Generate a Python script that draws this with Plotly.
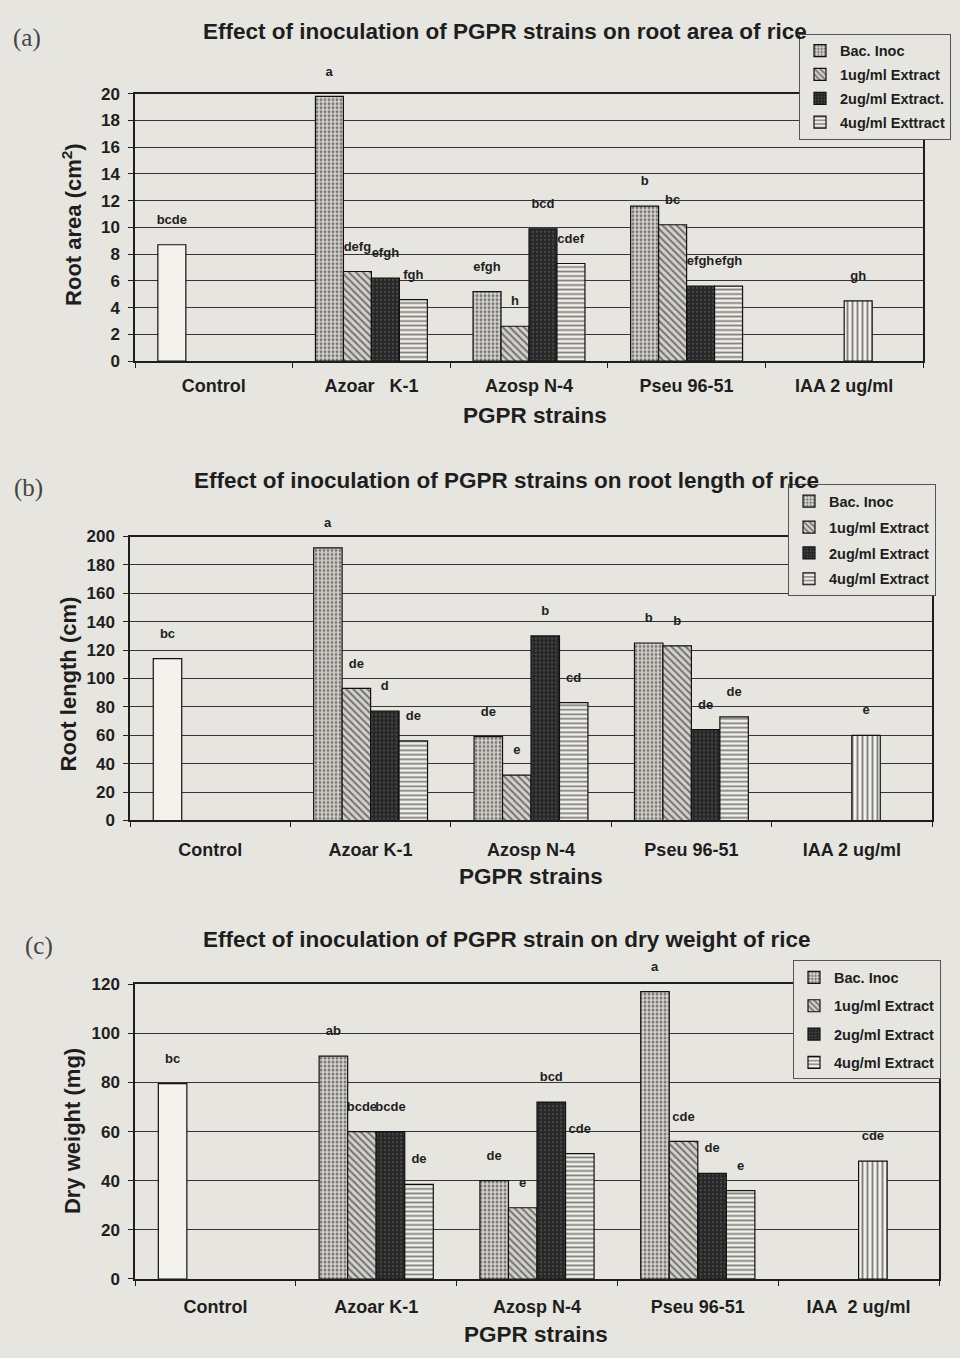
import plotly.graph_objects as go

# ---------------- data ----------------
categories = ["Control", "Azoar K-1", "Azosp N-4", "Pseu 96-51", "IAA 2 ug/ml"]
ticks_a = ["Control", "Azoar\u00a0\u00a0\u00a0K-1", "Azosp N-4", "Pseu 96-51", "IAA 2 ug/ml"]
ticks_b = ["Control", "Azoar K-1", "Azosp N-4", "Pseu 96-51", "IAA 2 ug/ml"]
ticks_c = ["Control", "Azoar K-1", "Azosp N-4", "Pseu 96-51", "IAA\u00a0\u00a02 ug/ml"]

legend_a = ["Bac. Inoc", "1ug/ml Extract", "2ug/ml Extract.", "4ug/ml Exttract"]
legend_bc = ["Bac. Inoc", "1ug/ml Extract", "2ug/ml Extract", "4ug/ml Extract"]

# strains order: Azoar K-1, Azosp N-4, Pseu 96-51
area_bac = [19.8, 5.2, 11.6]
area_1ug = [6.7, 2.6, 10.2]
area_2ug = [6.2, 9.9, 5.6]
area_4ug = [4.6, 7.3, 5.6]
area_control = 8.7
area_iaa = 4.5
area_let_bac = ["a", "efgh", "b"]
area_let_1ug = ["defg", "h", "bc"]
area_let_2ug = ["efgh", "bcd", "efgh"]
area_let_4ug = ["fgh", "cdef", "efgh"]
area_let_control = "bcde"
area_let_iaa = "gh"

len_bac = [192, 59, 125]
len_1ug = [93, 32, 123]
len_2ug = [77, 130, 64]
len_4ug = [56, 83, 73]
len_control = 114
len_iaa = 60
len_let_bac = ["a", "de", "b"]
len_let_1ug = ["de", "e", "b"]
len_let_2ug = ["d", "b", "de"]
len_let_4ug = ["de", "cd", "de"]
len_let_control = "bc"
len_let_iaa = "e"

dw_bac = [90.7, 40, 117]
dw_1ug = [60, 29, 56]
dw_2ug = [60, 72, 43]
dw_4ug = [38.5, 51, 36]
dw_control = 79.5
dw_iaa = 48
dw_let_bac = ["ab", "de", "a"]
dw_let_1ug = ["bcde", "e", "cde"]
dw_let_2ug = ["bcde", "bcd", "de"]
dw_let_4ug = ["de", "cde", "e"]
dw_let_control = "bc"
dw_let_iaa = "cde"

# ---------------- styles ----------------
FONT = "Liberation Sans"
BG = "#e6e5df"
INK = "#1e1e1e"
LETTER_TEMPLATE = "%{text}<br><span style='font-size:4px'>\u00a0</span>"

series_styles = [
    dict(shape=".", fg="#1a1a1a", bg="#d3d2cd", size=4, solidity=0.4),
    dict(shape="\\", fg="#111111", bg="#d2d1cc", size=5, solidity=0.4),
    dict(shape=".", fg="#666666", bg="#262626", size=4, solidity=0.3),
    dict(shape="-", fg="#111111", bg="#f1f0eb", size=4.5, solidity=0.4),
]
iaa_style = dict(shape="|", fg="#111111", bg="#f1f0eb", size=5, solidity=0.38)
control_color = "#f3f2ed"

fig = go.Figure()


def letter_font():
    return dict(family=FONT, size=13, color=INK, weight="bold")


def add_panel(axis_suffix, legend_id, names, series_vals, series_lets,
              ctrl_val, ctrl_let, iaa_val, iaa_let):
    xa = "x" + axis_suffix
    ya = "y" + axis_suffix
    for i, (vals, lets, st) in enumerate(zip(series_vals, series_lets, series_styles)):
        fig.add_trace(go.Bar(
            x=categories[1:4], y=list(vals),
            text=list(lets),
            texttemplate=LETTER_TEMPLATE,
            textposition="outside",
            textfont=letter_font(),
            constraintext="none", cliponaxis=False,
            name=names[i], legend=legend_id, legendgroup=legend_id + str(i),
            offsetgroup=str(i), xaxis=xa, yaxis=ya,
            marker=dict(color=st["bg"], line=dict(color="#111", width=1.2),
                        pattern=dict(shape=st["shape"], fgcolor=st["fg"], bgcolor=st["bg"],
                                     size=st["size"], solidity=st["solidity"])),
            hoverinfo="skip",
        ))
    # Control bar (first slot, plain white)
    fig.add_trace(go.Bar(
        x=[categories[0]], y=[ctrl_val], text=[ctrl_let],
        texttemplate=LETTER_TEMPLATE, textposition="outside",
        textfont=letter_font(),
        constraintext="none", cliponaxis=False,
        offsetgroup="0", showlegend=False, xaxis=xa, yaxis=ya,
        marker=dict(color=control_color, line=dict(color="#111", width=1.2)),
        hoverinfo="skip",
    ))
    # IAA bar (third slot, vertical lines)
    fig.add_trace(go.Bar(
        x=[categories[4]], y=[iaa_val], text=[iaa_let],
        texttemplate=LETTER_TEMPLATE, textposition="outside",
        textfont=letter_font(),
        constraintext="none", cliponaxis=False,
        offsetgroup="2", showlegend=False, xaxis=xa, yaxis=ya,
        marker=dict(color=iaa_style["bg"], line=dict(color="#111", width=1.2),
                    pattern=dict(shape=iaa_style["shape"], fgcolor=iaa_style["fg"],
                                 bgcolor=iaa_style["bg"], size=iaa_style["size"],
                                 solidity=iaa_style["solidity"])),
        hoverinfo="skip",
    ))


add_panel("", "legend", legend_a,
          [area_bac, area_1ug, area_2ug, area_4ug],
          [area_let_bac, area_let_1ug, area_let_2ug, area_let_4ug],
          area_control, area_let_control, area_iaa, area_let_iaa)
add_panel("2", "legend2", legend_bc,
          [len_bac, len_1ug, len_2ug, len_4ug],
          [len_let_bac, len_let_1ug, len_let_2ug, len_let_4ug],
          len_control, len_let_control, len_iaa, len_let_iaa)
add_panel("3", "legend3", legend_bc,
          [dw_bac, dw_1ug, dw_2ug, dw_4ug],
          [dw_let_bac, dw_let_1ug, dw_let_2ug, dw_let_4ug],
          dw_control, dw_let_control, dw_iaa, dw_let_iaa)

W, H = 960, 1358


def px(x):
    return x / W


def py(y):
    return 1 - y / H


def xaxis_style(x0, x1, ticktext, anchor, standoff):
    return dict(domain=[px(x0), px(x1)], anchor=anchor, type="category",
                categoryorder="array", categoryarray=categories,
                tickmode="array", tickvals=categories, ticktext=ticktext,
                tickson="boundaries", ticks="outside", ticklen=5, tickcolor=INK,
                showline=True, linecolor=INK, linewidth=1.5, mirror=True,
                showgrid=False, ticklabelstandoff=standoff,
                tickfont=dict(family=FONT, size=18, color=INK, weight="bold"))


def yaxis_style(y_top, y_bot, rng, dtick, anchor):
    return dict(domain=[py(y_bot), py(y_top)], anchor=anchor, range=rng, dtick=dtick,
                showgrid=True, gridcolor="#353535", gridwidth=1,
                ticks="outside", ticklen=5, tickcolor=INK,
                showline=True, linecolor=INK, linewidth=1.5, mirror=True,
                zeroline=False, ticklabelstandoff=5,
                tickfont=dict(family=FONT, size=17, color=INK, weight="bold"))


legend_common = dict(xanchor="left", yanchor="top", bgcolor=BG,
                     bordercolor="#555", borderwidth=1,
                     font=dict(family=FONT, size=14.5, color=INK, weight="bold"),
                     itemwidth=30, traceorder="grouped")

fig.update_layout(
    width=W, height=H, margin=dict(l=0, r=0, t=0, b=0),
    paper_bgcolor=BG, plot_bgcolor=BG,
    barmode="group", bargap=0.29, bargroupgap=0,
    xaxis=xaxis_style(135, 923, ticks_a, "y", 8),
    yaxis=yaxis_style(86, 357, [0, 20], 2, "x"),
    xaxis2=xaxis_style(130, 932, ticks_b, "y2", 12),
    yaxis2=yaxis_style(535, 823, [0, 200], 20, "x2"),
    xaxis3=xaxis_style(135, 939, ticks_c, "y3", 11),
    yaxis3=yaxis_style(989, 1288, [0, 120], 20, "x3"),
    legend=dict(x=px(799), y=py(25), tracegroupgap=2, **legend_common),
    legend2=dict(x=px(788), y=py(482), tracegroupgap=4, **legend_common),
    legend3=dict(x=px(793), y=py(965), tracegroupgap=6.5, **legend_common),
    showlegend=True,
)

annotations = []
titles = [
    ("Effect of inoculation of PGPR strains on root area of rice", 505, 23),
    ("Effect of inoculation of PGPR strains on root length of rice", 506, 478),
    ("Effect of inoculation of PGPR strain on dry weight of rice", 507, 944),
]
for t, x, y in titles:
    annotations.append(dict(text=t, x=px(x), y=py(y), xref="paper", yref="paper",
                            showarrow=False, xanchor="center", yanchor="middle",
                            font=dict(family=FONT, size=22.5, color=INK, weight="bold")))
panel_labels = [("(a)", 27, 29), ("(b)", 28, 486), ("(c)", 39, 950)]
for t, x, y in panel_labels:
    annotations.append(dict(text=t, x=px(x), y=py(y), xref="paper", yref="paper",
                            showarrow=False, xanchor="center", yanchor="middle",
                            font=dict(family="Liberation Serif", size=25, color="#444")))
x_titles = [("PGPR strains", 535, 412), ("PGPR strains", 531, 880), ("PGPR strains", 536, 1344)]
for t, x, y in x_titles:
    annotations.append(dict(text=t, x=px(x), y=py(y), xref="paper", yref="paper",
                            showarrow=False, xanchor="center", yanchor="middle",
                            font=dict(family=FONT, size=22.5, color=INK, weight="bold")))
y_titles = [("Root area (cm<sup>2</sup>)", 72, 219), ("Root length (cm)", 68, 685),
            ("Dry weight (mg)", 72, 1138)]
for t, x, y in y_titles:
    annotations.append(dict(text=t, x=px(x), y=py(y), xref="paper", yref="paper",
                            showarrow=False, xanchor="center", yanchor="middle",
                            textangle=-90,
                            font=dict(family=FONT, size=22, color=INK, weight="bold")))
fig.update_layout(annotations=annotations)

fig.write_html("out.html")
